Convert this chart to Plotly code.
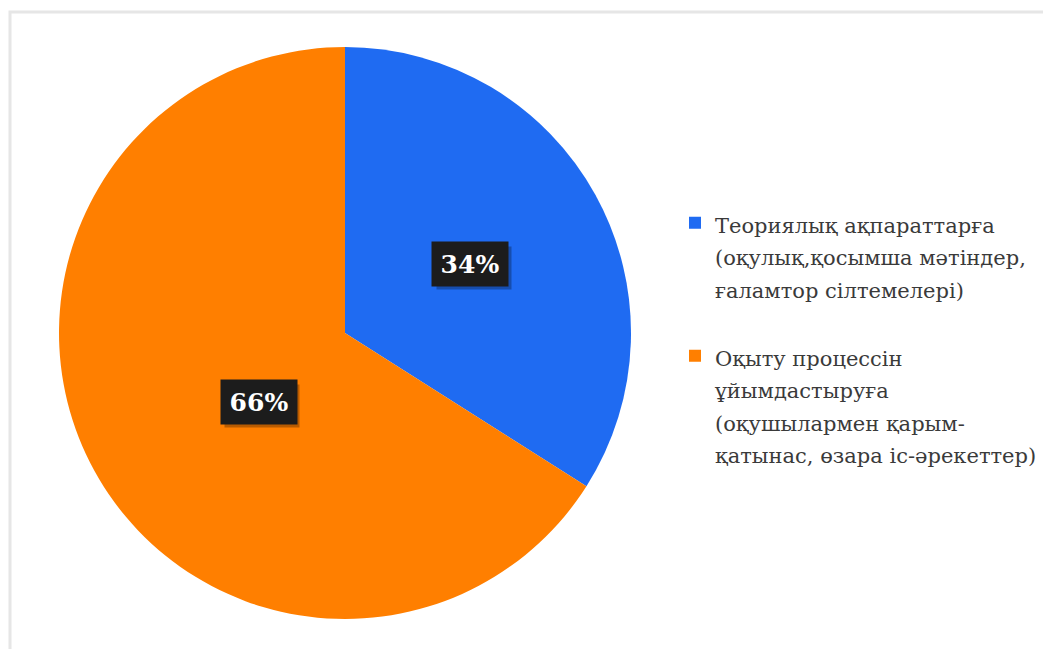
import math
import plotly.graph_objects as go

label_lines = [
    ["Теориялық ақпараттарға", "(оқулық,қосымша мәтіндер,", "ғаламтор сілтемелері)", " "],
    ["Оқыту процессін", "ұйымдастыруға", "(оқушылармен қарым-", "қатынас, өзара іс-әрекеттер)"],
]
values = [34, 66]
colors = ["#1F6BF2", "#FF7F00"]

SERIF = "DejaVu Serif"
GLYPH_PX = 21

labels = ["<br>".join(f"<span style='font-size:{GLYPH_PX}px'>{ln}</span>" for ln in lines)
          for lines in label_lines]

W, H = 1043, 649
cx, cy, R = 345, 333, 286
dom_x = [(cx - R) / W, (cx + R) / W]
dom_y = [1 - (cy + R) / H, 1 - (cy - R) / H]

fig = go.Figure()
fig.add_trace(go.Pie(
    labels=labels, values=values, sort=False, direction="clockwise", rotation=0,
    marker=dict(colors=colors, line=dict(width=0)),
    textinfo="none", hoverinfo="percent",
    domain=dict(x=dom_x, y=dom_y), showlegend=True,
))

total = sum(values)
acc = 0
for v in values:
    mid = (acc + v / 2) / total * 2 * math.pi
    acc += v
    px = cx + 0.5 * R * math.sin(mid)
    py = cy - 0.5 * R * math.cos(mid)
    fig.add_annotation(
        x=px / W, y=1 - py / H, xref="paper", yref="paper",
        text=" ", showarrow=False, xshift=4, yshift=-4,
        width=74, height=42, borderpad=0,
        bgcolor="rgba(0,0,0,0.28)",
    )
    fig.add_annotation(
        x=px / W, y=1 - py / H, xref="paper", yref="paper",
        text=f"<b>{round(v / total * 100)}%</b>", showarrow=False,
        font=dict(family=SERIF, size=25, color="white"),
        width=74, height=42, borderpad=1, align="center", valign="middle",
        bgcolor="#1c1c1c",
    )

fig.add_shape(type="rect", xref="paper", yref="paper",
              x0=10 / W, x1=1.05, y0=-0.05, y1=1 - 12 / H,
              line=dict(color="#e6e6e6", width=3), layer="below")

fig.update_layout(
    width=W, height=H, margin=dict(l=0, r=0, t=0, b=0),
    paper_bgcolor="white", plot_bgcolor="white",
    legend=dict(
        x=675 / W, y=1 - 200 / H, xanchor="left", yanchor="top",
        font=dict(family=SERIF, size=25, color="#3a3a3a"),
        valign="top", itemsizing="constant",
        bgcolor="rgba(0,0,0,0)",
    ),
)
fig.write_html("out.html")
